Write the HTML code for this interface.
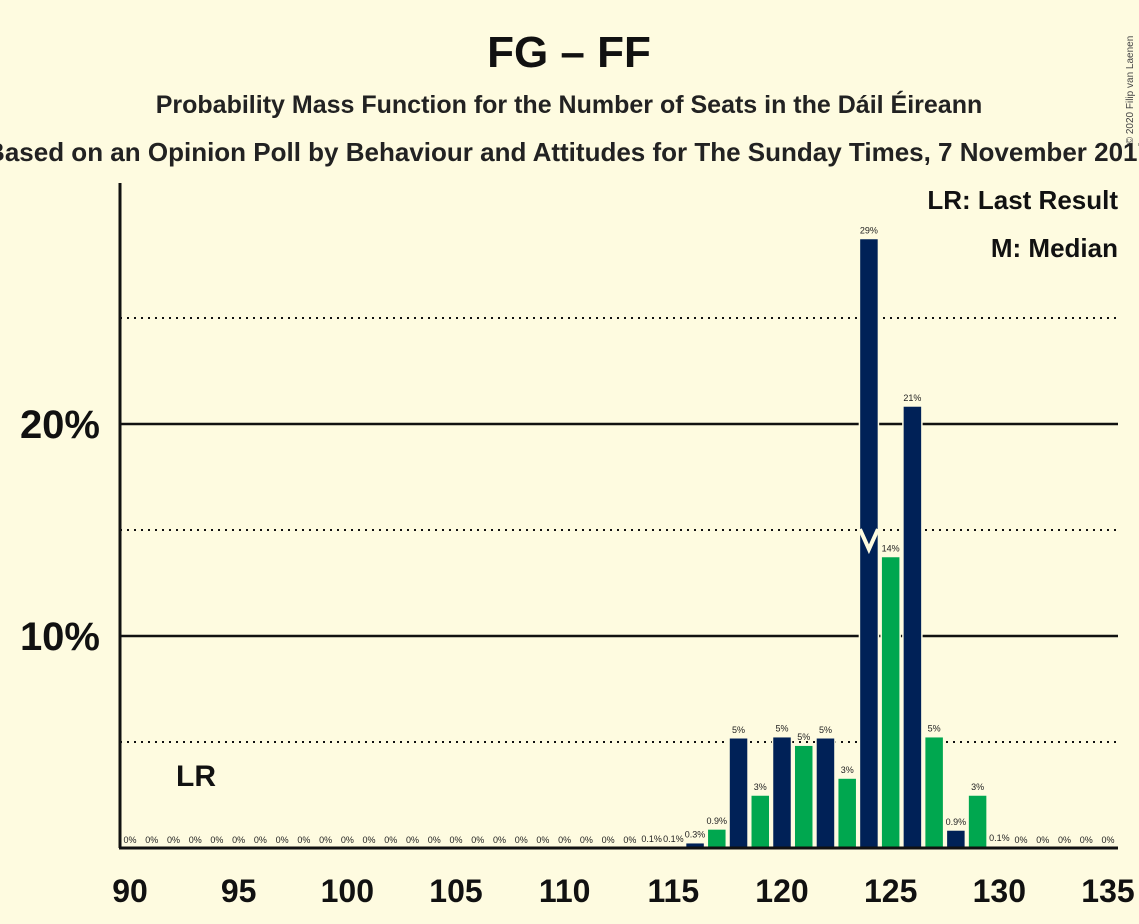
<!DOCTYPE html>
<html><head><meta charset="utf-8"><style>
body{margin:0;background:#fefbe0;}
svg{display:block;font-family:"Liberation Sans",sans-serif;}
</style></head><body>
<svg id="chart" width="1139" height="924" xmlns="http://www.w3.org/2000/svg">
<rect width="1139" height="924" fill="#fefbe0"/>
<text x="569" y="67" text-anchor="middle" font-size="44" font-weight="bold" fill="#111">FG – FF</text>
<text x="569" y="113" text-anchor="middle" font-size="25" font-weight="bold" fill="#222">Probability Mass Function for the Number of Seats in the Dáil Éireann</text>
<text x="569" y="161" text-anchor="middle" font-size="26" font-weight="bold" fill="#222">Based on an Opinion Poll by Behaviour and Attitudes for The Sunday Times, 7 November 2017</text>
<text x="1133" y="90" font-size="10" fill="#444" transform="rotate(-90 1133 90)" text-anchor="middle">© 2020 Filip van Laenen</text>
<g id="grid"></g>
<g id="bars"></g>
<g id="labels"></g>
<line x1="120" y1="183" x2="120" y2="848" stroke="#111" stroke-width="3"/>
<line x1="119" y1="848" x2="1118" y2="848" stroke="#111" stroke-width="3"/>
<g id="xticks"></g>
<g id="yticks"></g>
<text x="1118" y="209" text-anchor="end" font-size="26" font-weight="bold" fill="#111">LR: Last Result</text>
<text x="1118" y="257" text-anchor="end" font-size="26" font-weight="bold" fill="#111">M: Median</text>
<text x="196" y="786" text-anchor="middle" font-size="30" font-weight="bold" fill="#111">LR</text>
</svg>
<script>
const seats=[90,91,92,93,94,95,96,97,98,99,100,101,102,103,104,105,106,107,108,109,110,111,112,113,114,115,116,117,118,119,120,121,122,123,124,125,126,127,128,129,130,131,132,133,134,135];
const probs=[0,0,0,0,0,0,0,0,0,0,0,0,0,0,0,0,0,0,0,0,0,0,0,0,0.05,0.05,0.25,0.9,5.2,2.5,5.25,4.85,5.2,3.3,28.75,13.75,20.85,5.25,0.85,2.5,0.1,0,0,0,0,0];
const valueLabels=["0%","0%","0%","0%","0%","0%","0%","0%","0%","0%","0%","0%","0%","0%","0%","0%","0%","0%","0%","0%","0%","0%","0%","0%","0.1%","0.1%","0.3%","0.9%","5%","3%","5%","5%","5%","3%","29%","14%","21%","5%","0.9%","3%","0.1%","0%","0%","0%","0%","0%"];
const xTicks=[90,95,100,105,110,115,120,125,130,135];
const yTicks=[10,20];
const dottedTicks=[5,15,25];
const medianSeat=124, medianLevel=14;
const NS="http://www.w3.org/2000/svg";
const xs=s=>130+(s-90)*(1108-130)/45;
const ys=p=>848-p*21.2;
function mk(tag,attrs,parent){const e=document.createElementNS(NS,tag);for(const k in attrs)e.setAttribute(k,attrs[k]);parent.appendChild(e);return e;}
const grid=document.getElementById('grid'),bars=document.getElementById('bars'),labels=document.getElementById('labels');
dottedTicks.forEach(t=>{const l=mk('line',{x1:120,x2:1118,y1:ys(t),y2:ys(t),stroke:'#111','stroke-width':2,'stroke-dasharray':'2,5'},grid);

});
yTicks.forEach(t=>{const l=mk('line',{x1:120,x2:1118,y1:ys(t),y2:ys(t),stroke:'#111','stroke-width':2.5},grid);


const tx=mk('text',{x:100,y:ys(t)+14,'text-anchor':'end','font-size':40,'font-weight':'bold',fill:'#111'},document.getElementById('yticks'));tx.textContent=t+'%';

});
seats.forEach((s,i)=>{const p=probs[i];const cx=xs(s);
if(p>0){const r=mk('rect',{x:cx-9.5,y:ys(p),width:19,height:848-ys(p),fill:s%2===0?'#002157':'#00a74f',stroke:'#fefbe0','stroke-width':1.5},bars);

}
const t=mk('text',{x:cx,y:ys(p)-5,'text-anchor':'middle','font-size':9,fill:'#222'},labels);t.textContent=valueLabels[i];

});
const mx=xs(medianSeat),my=ys(medianLevel);
const m=mk('polyline',{points:`${mx-9},${my-22} ${mx},${my-2} ${mx+9},${my-22}`,fill:'none',stroke:'#fefbe0','stroke-width':4},bars);


xTicks.forEach(t=>{const tx=mk('text',{x:xs(t),y:902,'text-anchor':'middle','font-size':32,'font-weight':'bold',fill:'#111'},document.getElementById('xticks'));tx.textContent=t;

});
</script>
</body></html>
